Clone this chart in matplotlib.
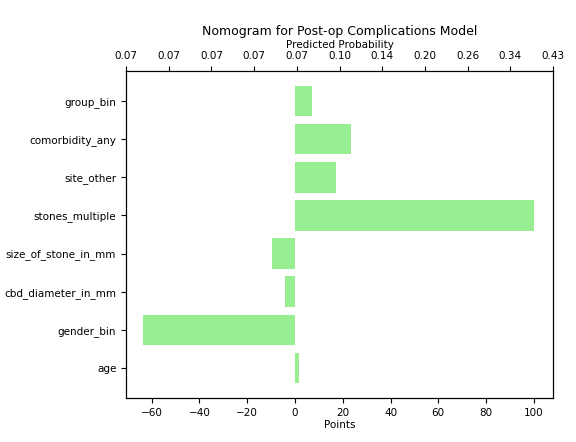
import matplotlib
matplotlib.use("Agg")
import matplotlib.pyplot as plt
import numpy as np

features = ["age", "gender_bin", "cbd_diameter_in_mm", "size_of_stone_in_mm",
            "stones_multiple", "site_other", "comorbidity_any", "group_bin"]
points = [1.5, -63.5, -4.0, -9.5, 100.0, 17.0, 23.5, 7.0]
prob_labels = ["0.07", "0.07", "0.07", "0.07", "0.07",
               "0.10", "0.14", "0.20", "0.26", "0.34", "0.43"]

fig = plt.figure(figsize=(5.76, 4.42), dpi=100)
ax = fig.add_axes([126 / 576, 44 / 442, 427 / 576, 327 / 442])
ax.barh(features, points, color="#98ee90", height=0.8)
ax.set_xlim(-70.7, 108.0)
ax.set_xlabel("Points", fontsize=7.5, labelpad=2)
ax.tick_params(labelsize=7.5)

top = ax.twiny()
top.set_xlim(ax.get_xlim())
top.set_xticks(np.linspace(-70.7, 108.0, 11))
top.set_xticklabels(prob_labels, fontsize=7.5)
top.set_xlabel("Predicted Probability", fontsize=7.5, labelpad=2)
top.set_title("Nomogram for Post-op Complications Model", fontsize=9, pad=4)

fig.savefig("out.png", dpi=100)
